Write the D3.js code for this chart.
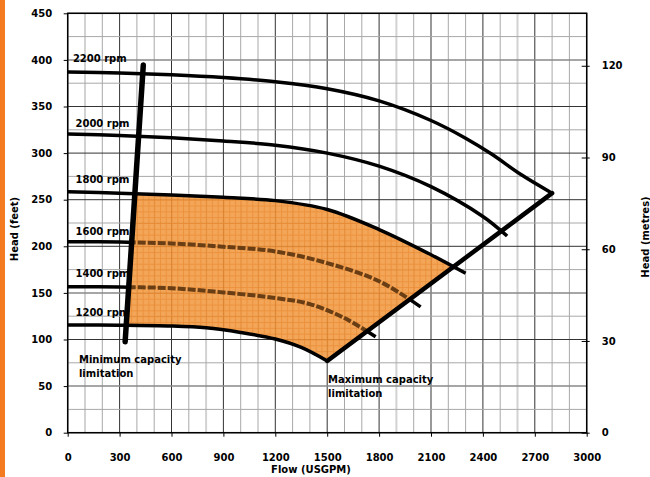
<!DOCTYPE html>
<html>
<head>
<meta charset="utf-8">
<script src="https://cdn.jsdelivr.net/npm/d3@7"></script>
<style>
  body { margin: 0; background: #fff; }
  text { font-family: "DejaVu Sans", sans-serif; font-weight: bold; font-size: 10px; fill: #000; }
</style>
</head>
<body>
<div id="chart"></div>
<script>
// pump curves (flow USGPM, head feet)
const rpmNames = ["2200 rpm", "2000 rpm", "1800 rpm", "1600 rpm", "1400 rpm", "1200 rpm"];
const flow2200 = [0, 300, 600, 900, 1200, 1500, 1800, 2100, 2300, 2450, 2620, 2800];
const head2200 = [387, 386, 384, 381, 376.5, 369, 356, 335, 316, 299, 277, 257];
const flow2000 = [0, 300, 600, 900, 1200, 1500, 1800, 2100, 2400, 2540];
const head2000 = [320.5, 319, 316.5, 313, 308.5, 300, 286, 264, 232, 211];
const flow1800 = [0, 300, 600, 900, 1200, 1500, 1800, 2100, 2300];
const head1800 = [258.6, 257, 255, 252.5, 249, 239.5, 218, 191, 171];
const flow1600 = [0, 300, 600, 900, 1200, 1500, 1800, 2040];
const head1600 = [205, 204.5, 203, 199.5, 194.5, 182, 162.5, 135];
const flow1400 = [0, 300, 600, 900, 1200, 1400, 1600, 1780];
const head1400 = [156.7, 156.3, 155, 150.5, 144.5, 138, 123, 103];
const flow1200 = [0, 300, 600, 800, 1000, 1200, 1350, 1500];
const head1200 = [115.6, 115.4, 114.5, 112.5, 107.5, 100.5, 91.5, 77];

// capacity limits
const minCapFlow = [332, 437];
const minCapHead = [97.6, 394.5];
const maxCapFlow = [1500, 2800];
const maxCapHead = [77, 257];

// labels
const labelFlow = [30, 45, 45, 45, 45, 45];
const labelHead = [398, 327.5, 268, 212, 167.5, 125];

// axes ticks
const flowTicks = d3.range(0, 3001, 300);
const feetTicks = d3.range(0, 451, 50);
const metreTicks = [0, 30, 60, 90, 120];
const lightCols = [100, 800, 1900, 2600];
const softRows = [400, 150, 50];

const width = 650, height = 477;
const svg = d3.select("#chart").append("svg")
    .attr("width", width)
    .attr("height", height);

const x = d3.scaleLinear().domain([0, 3000]).range([67.7, 586.7]);
const y = d3.scaleLinear().domain([0, 450]).range([432.7, 13.3]);
const yM = d3.scaleLinear().domain([0, 450 / 3.28084]).range([432.7, 13.3]);

const pts = (fs, hs) => fs.map((f, i) => [f, hs[i]]);
const line = d3.line().x(d => x(d[0])).y(d => y(d[1])).curve(d3.curveCatmullRom.alpha(0.5));
const straight = d3.line().x(d => x(d[0])).y(d => y(d[1]));

const curves = {
    "2200": pts(flow2200, head2200),
    "2000": pts(flow2000, head2000),
    "1800": pts(flow1800, head1800),
    "1600": pts(flow1600, head1600),
    "1400": pts(flow1400, head1400),
    "1200": pts(flow1200, head1200)
};

// orange bar at the left
svg.append("rect").attr("x", 0).attr("y", 0).attr("width", 5).attr("height", height).attr("fill", "#F47B20");

// grid
const grid = svg.append("g");
d3.range(0, 3001, 100).forEach(f => {
    const major = f % 300 === 0;
    const light = lightCols.includes(f);
    grid.append("line")
        .attr("x1", x(f)).attr("x2", x(f)).attr("y1", y(0)).attr("y2", y(450))
        .attr("stroke", major ? "#333" : (light ? "#d2d2d2" : "#a8a8a8"))
        .attr("stroke-width", light ? 2 : 1);
});
d3.range(0, 451, 25).forEach(h => {
    const major = h % 50 === 0;
    const soft = softRows.includes(h);
    grid.append("line")
        .attr("x1", x(0)).attr("x2", x(3000)).attr("y1", y(h)).attr("y2", y(h))
        .attr("stroke", soft ? "#888" : (major ? "#333" : "#a8a8a8"))
        .attr("stroke-width", soft ? 1.5 : 1);
});

// defs: hatch pattern, capacity clip, zone shape
const defs = svg.append("defs");
const pw = (x(100) - x(0)) / 3, ph = (y(0) - y(6.25));
const pat = defs.append("pattern").attr("id", "hatch")
    .attr("patternUnits", "userSpaceOnUse")
    .attr("x", x(0)).attr("y", y(450))
    .attr("width", pw).attr("height", ph);
pat.append("rect").attr("width", pw).attr("height", ph).attr("fill", "#F29B45");
pat.append("line").attr("x1", 0.5).attr("x2", 0.5).attr("y1", 0).attr("y2", ph).attr("stroke", "#EA8628").attr("stroke-width", 1);
pat.append("line").attr("x1", 0).attr("x2", pw).attr("y1", 0.5).attr("y2", 0.5).attr("stroke", "#EA8628").attr("stroke-width", 1);

// extrapolate a capacity line to a given head
function flowAt(fs, hs, h) {
    return fs[0] + (h - hs[0]) * (fs[1] - fs[0]) / (hs[1] - hs[0]);
}
const quad = [
    [flowAt(minCapFlow, minCapHead, 0), 0],
    [flowAt(minCapFlow, minCapHead, 450), 450],
    [flowAt(maxCapFlow, maxCapHead, 450), 450],
    [flowAt(maxCapFlow, maxCapHead, 0), 0]
];
defs.append("clipPath").attr("id", "capClip")
    .append("path").attr("d", straight(quad) + "Z");

const zoneD = line(curves["1800"]) + line(curves["1200"].slice().reverse()).replace(/^M/, "L") + "Z";
defs.append("clipPath").attr("id", "zoneClip")
    .append("path").attr("d", zoneD);

const mask = defs.append("mask").attr("id", "outsideZone").attr("maskUnits", "userSpaceOnUse")
    .attr("x", 0).attr("y", 0).attr("width", width).attr("height", height);
mask.append("rect").attr("width", width).attr("height", height).attr("fill", "#fff");
mask.append("g").attr("clip-path", "url(#capClip)")
    .append("path").attr("d", zoneD).attr("fill", "#000");

// operating zone
svg.append("g").attr("clip-path", "url(#capClip)")
    .append("path").attr("d", zoneD)
    .attr("fill", "url(#hatch)")
    .attr("opacity", 0.9);

// curves outside the zone
["1600", "1400"].forEach(k => {
    svg.append("path").attr("d", line(curves[k]))
        .attr("fill", "none").attr("stroke", "#000").attr("stroke-width", 3.5)
        .attr("mask", "url(#outsideZone)");
});
["2200", "2000", "1800", "1200"].forEach(k => {
    svg.append("path").attr("d", line(curves[k]))
        .attr("fill", "none").attr("stroke", "#000").attr("stroke-width", 3.5);
});

// dashed curves inside the zone
const inner = svg.append("g").attr("clip-path", "url(#zoneClip)")
    .append("g").attr("clip-path", "url(#capClip)");
["1600", "1400"].forEach(k => {
    inner.append("path").attr("d", line(curves[k]))
        .attr("fill", "none").attr("stroke", "#6A3E14").attr("stroke-width", 4)
        .attr("stroke-dasharray", "8,2");
});

// rpm labels (under the capacity lines)
rpmNames.forEach((n, i) => {
    svg.append("text").attr("x", x(labelFlow[i])).attr("y", y(labelHead[i])).text(n);
});

// capacity lines
svg.append("path").attr("d", straight(pts(minCapFlow, minCapHead)))
    .attr("stroke", "#000").attr("stroke-width", 5.5).attr("stroke-linecap", "round");
svg.append("path").attr("d", straight(pts(maxCapFlow, maxCapHead)))
    .attr("stroke", "#000").attr("stroke-width", 4.5).attr("stroke-linecap", "round");

// frame
svg.append("rect")
    .attr("x", x(0)).attr("y", y(450))
    .attr("width", x(3000) - x(0)).attr("height", y(0) - y(450))
    .attr("fill", "none").attr("stroke", "#000").attr("stroke-width", 1.5);

// axes
svg.append("g").attr("transform", `translate(${x(0)},0)`)
    .call(d3.axisLeft(y).tickValues(feetTicks).tickFormat(d3.format("d")).tickSize(4).tickPadding(11.5))
    .call(g => g.select(".domain").remove())
    .call(g => g.selectAll("text").attr("font-size", null).attr("font-family", null));
svg.append("g").attr("transform", `translate(0,${y(0)})`)
    .call(d3.axisBottom(x).tickValues(flowTicks).tickFormat(d3.format("d")).tickSize(4).tickPadding(17))
    .call(g => g.select(".domain").remove())
    .call(g => g.selectAll("text").attr("font-size", null).attr("font-family", null));
svg.append("g").attr("transform", `translate(${x(3000) - 5},0)`)
    .call(d3.axisRight(yM).tickValues(metreTicks).tickFormat(d3.format("d")).tickSize(8).tickPadding(12))
    .call(g => g.select(".domain").remove())
    .call(g => g.selectAll("text").attr("font-size", null).attr("font-family", null));

// axis titles
svg.append("text").attr("transform", "translate(18,229) rotate(-90)")
    .attr("text-anchor", "middle").text("Head (feet)");
svg.append("text").attr("transform", "translate(649,237) rotate(-90)")
    .attr("text-anchor", "middle").text("Head (metres)");
svg.append("text").attr("x", 311).attr("y", 473)
    .attr("text-anchor", "middle").text("Flow (USGPM)");

// limit notes
svg.append("text").attr("x", x(65)).attr("y", y(75)).text("Minimum capacity");
svg.append("text").attr("x", x(65)).attr("y", y(60)).text("limitation");
svg.append("text").attr("x", x(1505)).attr("y", y(53)).text("Maximum capacity");
svg.append("text").attr("x", x(1505)).attr("y", y(38)).text("limitation");
</script>
</body>
</html>
